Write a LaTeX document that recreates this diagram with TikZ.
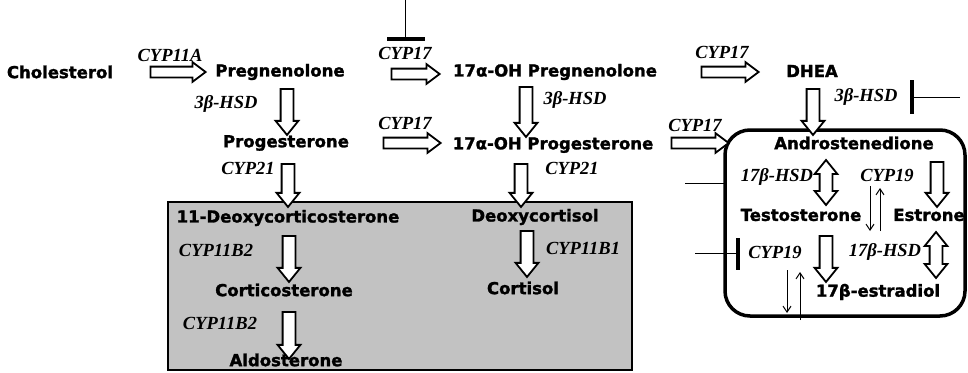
\documentclass[tikz,border=0pt]{standalone}
\usepackage{fontspec}
\usetikzlibrary{shapes.arrows,calc,arrows.meta}
\newfontfamily\molfam{DejaVu Sans}[BoldFeatures={FakeBold=1.6}]
\newfontfamily\enzfam{Liberation Serif}
\tikzset{
  mol/.style={font=\molfam\bfseries\fontsize{16.5}{18}\selectfont, inner sep=0pt},
  enz/.style={font=\enzfam\bfseries\itshape\fontsize{18.5}{20}\selectfont, inner sep=0pt},
  harr/.style={single arrow, draw=black, fill=white, line width=1.8pt, inner sep=0pt,
    inner ysep=4.5pt, single arrow head extend=4.5pt, single arrow head indent=0pt,
    single arrow tip angle=74, minimum width=0pt},
  varr/.style={harr, inner ysep=5.5pt, single arrow head extend=5pt, single arrow tip angle=78},
  darr/.style={double arrow, draw=black, fill=white, line width=1.8pt, inner sep=0pt,
    inner ysep=5.5pt, double arrow head extend=5pt, double arrow head indent=0pt,
    double arrow tip angle=78, minimum width=0pt},
  graybox/.style={draw=black, fill=black!24, line width=2pt},
  roundbox/.style={draw=black, line width=3.5pt, rounded corners=25pt},
  inhline/.style={line width=1pt},
  inhbar/.style={line width=3.5pt},
  tarrow/.style={line width=1pt, -{Straight Barb[length=6pt,width=8pt]}},
}
\newcommand\barrow[3]{%
  \path let \p1=(#2), \p2=(#3), \n1={atan2(\y2-\y1,\x2-\x1)}, \n2={veclen(\x2-\x1,\y2-\y1)} in
    node[#1, minimum height=\n2, rotate=\n1] at ($(#2)!0.5!(#3)$) {};}
\begin{document}
\begin{tikzpicture}[x=1pt,y=-1pt]
\useasboundingbox (0,0) rectangle (968,372);
\fill[white] (0,0) rectangle (968,372);
% boxes
\draw[graybox] (168,202) rectangle (632,370);
\draw[roundbox] (725,130) rectangle (965,316);
% molecules
\node[mol] (chol) at (60,72) {Cholesterol};
\node[mol] (preg) at (280,72) {Pregnenolone};
\node[mol] (opreg) at (555,72) {17α-OH Pregnenolone};
\node[mol] (dhea) at (812,71) {DHEA};
\node[mol] (prog) at (286,143) {Progesterone};
\node[mol] (oprog) at (553,145) {17α-OH Progesterone};
\node[mol] (andro) at (854,143) {Androstenedione};
\node[mol] (doc) at (288,218) {11-Deoxycorticosterone};
\node[mol] (dcort) at (535,217) {Deoxycortisol};
\node[mol] (cortico) at (284,290) {Corticosterone};
\node[mol] (cortisol) at (523,288) {Cortisol};
\node[mol] (aldo) at (286,360) {Aldosterone};
\node[mol] (testo) at (801,215) {Testosterone};
\node[mol] (estrone) at (929,215) {Estrone};
\node[mol] (estradiol) at (878,292) {17β-estradiol};
% enzymes
\node[enz] (e1) at (170,55) {CYP11A};
\node[enz] (e2) at (226,104) {3β-HSD};
\node[enz] (e3) at (405,53) {CYP17};
\node[enz] (e4) at (575,100) {3β-HSD};
\node[enz] (e5) at (722,52) {CYP17};
\node[enz] (e6) at (866,97) {3β-HSD};
\node[enz] (e7) at (405,123) {CYP17};
\node[enz] (e8) at (695,125) {CYP17};
\node[enz] (e9) at (248,168) {CYP21};
\node[enz] (e10) at (572,168) {CYP21};
\node[enz] (e11) at (216,250) {CYP11B2};
\node[enz] (e12) at (583,248) {CYP11B1};
\node[enz] (e13) at (220,323) {CYP11B2};
\node[enz] (e14) at (777,177) {17β-HSD};
\node[enz] (e15) at (887,175) {CYP19};
\node[enz] (e16) at (775,252) {CYP19};
\node[enz] (e17) at (885,252) {17β-HSD};
% arrow end points
\coordinate (h1a) at (147,72);  \coordinate (h1b) at (202,72);
\coordinate (h2a) at (388,74);  \coordinate (h2b) at (436,74);
\coordinate (h3a) at (698,72);  \coordinate (h3b) at (755,72);
\coordinate (h4a) at (380,143); \coordinate (h4b) at (437,143);
\coordinate (h5a) at (668,143); \coordinate (h5b) at (725,143);
\coordinate (v1a) at (287,85);  \coordinate (v1b) at (287,131);
\coordinate (v2a) at (526,83);  \coordinate (v2b) at (526,133);
\coordinate (v3a) at (813,85);  \coordinate (v3b) at (813,131);
\coordinate (v4a) at (288,160); \coordinate (v4b) at (288,203);
\coordinate (v5a) at (521,160); \coordinate (v5b) at (521,203);
\coordinate (v6a) at (289,232); \coordinate (v6b) at (289,278);
\coordinate (v7a) at (527,227); \coordinate (v7b) at (527,273);
\coordinate (v8a) at (289,308); \coordinate (v8b) at (289,355);
\coordinate (v9a) at (937,158); \coordinate (v9b) at (937,203);
\coordinate (v10a) at (826,232); \coordinate (v10b) at (826,278);
\coordinate (d1a) at (826,160); \coordinate (d1b) at (826,205);
\coordinate (d2a) at (936,232); \coordinate (d2b) at (936,278);
% block arrows
\barrow{harr}{h1a}{h1b}
\barrow{harr}{h2a}{h2b}
\barrow{harr}{h3a}{h3b}
\barrow{harr}{h4a}{h4b}
\barrow{harr}{h5a}{h5b}
\barrow{varr}{v1a}{v1b}
\barrow{varr}{v2a}{v2b}
\barrow{varr}{v3a}{v3b}
\barrow{varr}{v4a}{v4b}
\barrow{varr}{v5a}{v5b}
\barrow{varr}{v6a}{v6b}
\barrow{varr}{v7a}{v7b}
\barrow{varr}{v8a}{v8b}
\barrow{varr}{v9a}{v9b}
\barrow{varr}{v10a}{v10b}
\barrow{darr}{d1a}{d1b}
\barrow{darr}{d2a}{d2b}
% thin arrows
\coordinate (t1a) at (870,186); \coordinate (t1b) at (870,231);
\coordinate (t2a) at (880,231); \coordinate (t2b) at (880,188);
\coordinate (t3a) at (787,270); \coordinate (t3b) at (787,313);
\coordinate (t4a) at (800,320); \coordinate (t4b) at (800,272);
\draw[tarrow] (t1a) -- (t1b);
\draw[tarrow] (t2a) -- (t2b);
\draw[tarrow] (t3a) -- (t3b);
\draw[tarrow] (t4a) -- (t4b);
% inhibitors
\coordinate (i1a) at (405,0);   \coordinate (i1b) at (405,39);
\coordinate (i1l) at (387,39);  \coordinate (i1r) at (425,39);
\draw[inhline] (i1a) -- (i1b);
\draw[inhbar] (i1l) -- (i1r);
\coordinate (i2a) at (960,97);  \coordinate (i2b) at (912,97);
\coordinate (i2t) at (912,80);  \coordinate (i2u) at (912,114);
\draw[inhline] (i2a) -- (i2b);
\draw[inhbar] (i2t) -- (i2u);
\coordinate (i3a) at (685,183); \coordinate (i3b) at (725,183);
\draw[inhline] (i3a) -- (i3b);
\coordinate (i4a) at (695,253); \coordinate (i4b) at (738,253);
\coordinate (i4t) at (738,238); \coordinate (i4u) at (738,270);
\draw[inhline] (i4a) -- (i4b);
\draw[inhbar] (i4t) -- (i4u);
\end{tikzpicture}
\end{document}
